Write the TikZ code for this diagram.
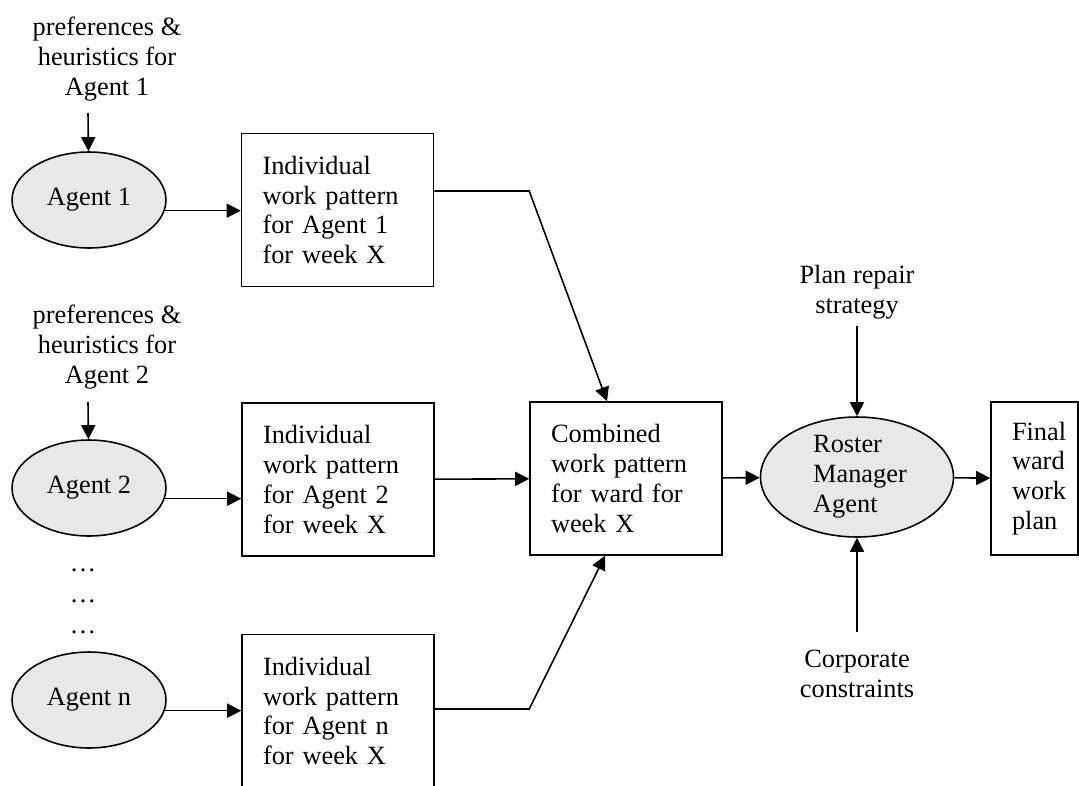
\documentclass[tikz,border=0pt]{standalone}
\usepackage{fontspec}
\setmainfont{Liberation Serif}
\usetikzlibrary{arrows.meta,shapes.geometric}
\definecolor{agentgray}{RGB}{232,232,232}

\begin{document}
\begin{tikzpicture}[x=0.02cm,y=-0.02cm,
  font=\fontsize{15}{17}\selectfont,
  line width=0.9pt,
  arr/.style={-{Triangle[length=8pt,width=8pt]}},
  agent/.style={draw,ellipse,fill=agentgray,inner sep=0pt,minimum width=3.08cm,minimum height=1.92cm},
  workbox/.style={draw,rectangle,align=left,text width=3.0cm,inner xsep=0.42cm,minimum height=3.06cm},
  sidetext/.style={align=center,inner xsep=0pt}]
\useasboundingbox (0,0) rectangle (1079,785);

% agents and their inputs
\node[sidetext] (pref1) at (107,59) {preferences \&\\heuristics for\\Agent 1};
\node[sidetext] (pref2) at (107,347) {preferences \&\\heuristics for\\Agent 2};
\coordinate (pref1out) at (88,113);
\coordinate (pref2out) at (88,402);
\node[agent] (agent1) at (89,200) {Agent 1};
\node[agent] (agent2) at (89,488) {Agent 2};
\node[agent] (agentn) at (89,700) {Agent n};
\node[anchor=base] (dots1) at (83,571) {…};
\node[anchor=base] (dots2) at (83,602) {…};
\node[anchor=base] (dots3) at (83,633) {…};

% individual patterns
\node[workbox] (box1) at (337.5,210) {Individual\\work pattern\\for Agent 1\\for week X};
\node[workbox] (box2) at (338,479.5) {Individual\\work pattern\\for Agent 2\\for week X};
\node[workbox] (boxn) at (338,711) {Individual\\work pattern\\for Agent n\\for week X};

% ward level
\node[workbox] (combined) at (626,478.5) {Combined\\work pattern\\for ward for\\week X};
\node[draw,ellipse,fill=agentgray,inner sep=0pt,align=left,minimum width=3.86cm,minimum height=2.4cm] (roster) at (857,477) {\hspace*{0.12cm}Roster\\\hspace*{0.12cm}Manager\\\hspace*{0.12cm}Agent};
\node[workbox,text width=0.9cm] (final) at (1034.5,478.5) {Final\\ward\\work\\plan};
\node[sidetext,inner ysep=3.4pt] (plan) at (857,292) {Plan repair\\strategy};
\node[sidetext,inner ysep=9.7pt] (corp) at (857,674) {Corporate\\constraints};

\draw[arr] (pref1out) -- (agent1);
\draw[arr] (pref2out) -- (agent2);
\draw[arr] (agent1.-8) -- (agent1.-8 -| box1.west);
\draw[arr] (agent2.-8) -- (agent2.-8 -| box2.west);
\draw[arr] (agentn.-8) -- (agentn.-8 -| boxn.west);
\draw[arr] ([yshift=.38cm]box1.east) -- ([yshift=.38cm]box1.east -| combined.west) -- ([xshift=-.38cm]combined.north);
\draw[arr] (box2) -- (combined);
\draw[arr] ([yshift=.04cm]boxn.east) -- ([yshift=.04cm]boxn.east -| combined.west) -- ([xshift=-.42cm]combined.south);
\draw[arr] (combined) -- (roster);
\draw[arr] (roster) -- (final);
\draw[arr] (plan) -- (roster);
\draw[arr] (corp) -- (roster);
\end{tikzpicture}
\end{document}
